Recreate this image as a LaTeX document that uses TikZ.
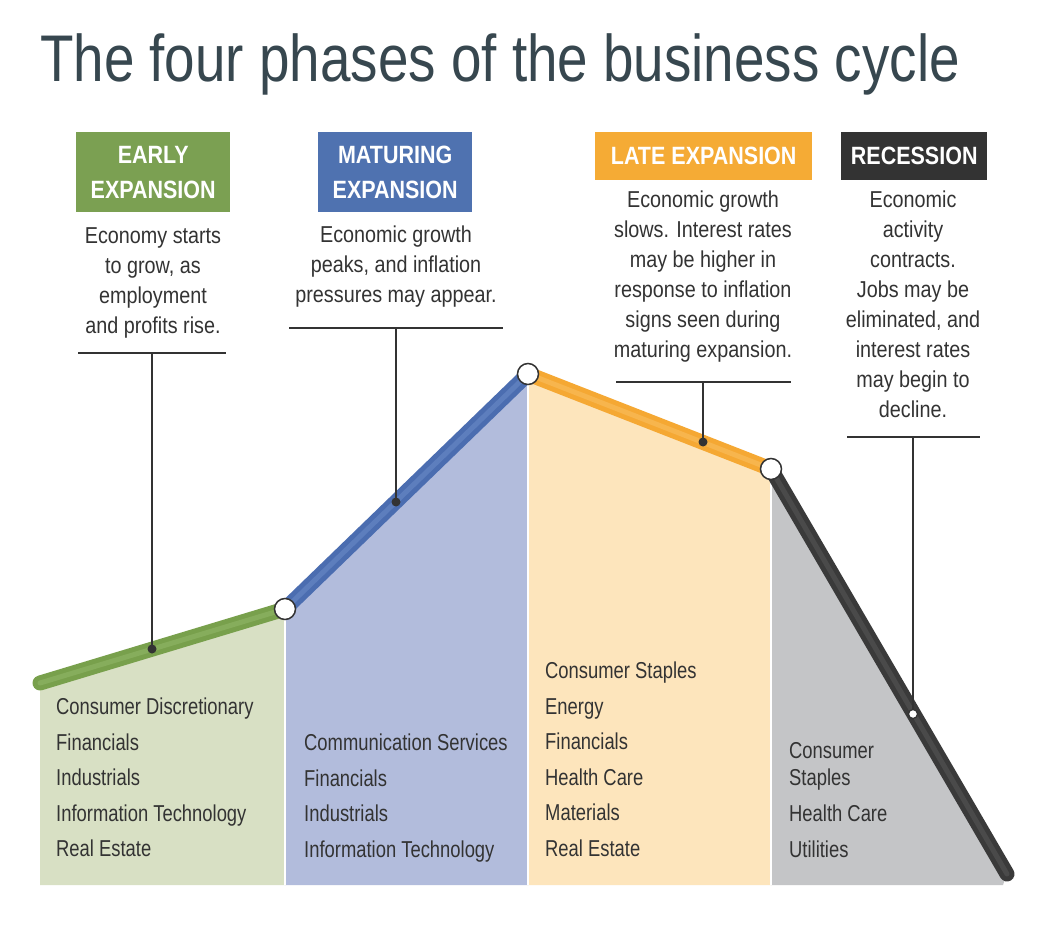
\documentclass[tikz,border=0pt]{standalone}
\usepackage{fontspec}
\setmainfont{Liberation Sans}[FakeStretch=0.8]
\newfontfamily\titlefont{Liberation Sans}[FakeStretch=0.83]
\newfontfamily\headfont{Liberation Sans}[FakeStretch=0.86]
\newfontfamily\descfont{Liberation Sans}[FakeStretch=0.86]
\definecolor{titlecol}{HTML}{37474F}
\definecolor{txt}{HTML}{333333}
\definecolor{cgreen}{HTML}{78A04C}
\definecolor{cgreenhi}{HTML}{93B86A}
\definecolor{cblue}{HTML}{4B6DB0}
\definecolor{cbluehi}{HTML}{6D8CC8}
\definecolor{corange}{HTML}{F5A833}
\definecolor{corangehi}{HTML}{F9C063}
\definecolor{cdark}{HTML}{3A3A3A}
\definecolor{cdarkhi}{HTML}{585858}
\definecolor{fgreen}{HTML}{D8E0C4}
\definecolor{fblue}{HTML}{B2BCDC}
\definecolor{forange}{HTML}{FDE5BC}
\definecolor{fgray}{HTML}{C4C5C7}
\definecolor{boxgreen}{HTML}{7BA052}
\definecolor{boxblue}{HTML}{4F72B0}
\definecolor{boxorange}{HTML}{F5AB35}
\definecolor{boxdark}{HTML}{333333}
\begin{document}
\begin{tikzpicture}[x=1pt,y=-1pt,
  hbox/.style={anchor=north west, inner sep=0pt, text=white, align=center,
    font=\headfont\bfseries\fontsize{25}{35}\selectfont},
  desc/.style={anchor=north, inner sep=0pt, text=txt, align=center,
    font=\descfont\fontsize{23}{30}\selectfont},
  sector/.style={anchor=north west, inner sep=0pt, text=txt, align=left,
    font=\fontsize{23}{35.5}\selectfont},
  tube/.style={line width=15pt, line cap=round},
  tubehi/.style={line width=5pt, line cap=round, opacity=0.55},
  jdot/.style={circle, draw=txt, fill=white, line width=1.5pt, minimum size=21pt, inner sep=0pt},
  cdot/.style={circle, fill=txt, minimum size=9pt, inner sep=0pt},
  odot/.style={circle, draw=txt, fill=white, line width=1.2pt, minimum size=9pt, inner sep=0pt},
  rulebar/.style={draw=txt, line width=2.8pt},
  lead/.style={draw=txt, line width=1.3pt},
  sep/.style={draw=white, line width=1.6pt}
]
\useasboundingbox (0,0) rectangle (1050,933);
\fill[white] (0,0) rectangle (1050,933);

% curve points
\coordinate (p0) at (40,683);
\coordinate (p1) at (285,609);
\coordinate (p2) at (528,374);
\coordinate (p3) at (771,469);
\coordinate (p4) at (1007,874);
\coordinate (b0) at (40,885);
\coordinate (b1) at (285,885);
\coordinate (b2) at (528,885);
\coordinate (b3) at (771,885);
\coordinate (b4) at (1003,885);

% region fills
\fill[fgreen] (40,690) -- (p1) -- (b1) -- (b0) -- cycle;
\fill[fblue] (p1) -- (p2) -- (b2) -- (b1) -- cycle;
\fill[forange] (p2) -- (p3) -- (b3) -- (b2) -- cycle;
\fill[fgray] (p3) -- (p4) -- (b4) -- (b3) -- cycle;
\draw[sep] (p1) -- (b1);
\draw[sep] (p2) -- (b2);
\draw[sep] (p3) -- (b3);

% tubes
\draw[tube, cgreen] (p0) -- (p1);
\draw[tubehi, cgreenhi] (p0) -- (p1);
\draw[tube, cblue] (p1) -- (p2);
\draw[tubehi, cbluehi] (p1) -- (p2);
\draw[tube, corange] (p2) -- (p3);
\draw[tubehi, corangehi] (p2) -- (p3);
\draw[tube, cdark] (p3) -- (p4);
\draw[tubehi, cdarkhi] (p3) -- (p4);

% junction circles
\node[jdot] (j1) at (p1) {};
\node[jdot] (j2) at (p2) {};
\node[jdot] (j3) at (p3) {};

% title
\node[anchor=base west, inner sep=0pt, text=titlecol,
  font=\titlefont\fontsize{66}{66}\selectfont] (title) at (40,82)
  {The four phases of the business cycle};

% header boxes
\node[hbox, fill=boxgreen, minimum width=154pt, minimum height=80pt] (h1) at (76,132) {EARLY\\EXPANSION};
\node[hbox, fill=boxblue, minimum width=154pt, minimum height=80pt] (h2) at (318,132) {MATURING\\EXPANSION};
\node[hbox, fill=boxorange, minimum width=217pt, minimum height=48pt] (h3) at (595,132) {LATE EXPANSION};
\node[hbox, fill=boxdark, minimum width=146pt, minimum height=48pt] (h4) at (841,132) {RECESSION};

% descriptions
\node[desc] (d1) at (153,227) {Economy starts\\to grow, as\\employment\\and profits rise.};
\node[desc] (d2) at (396,226) {Economic growth\\peaks, and inflation\\pressures may appear.};
\node[desc] (d3) at (703,191) {Economic growth\\slows. Interest rates\\may be higher in\\response to inflation\\signs seen during\\maturing expansion.};
\node[desc] (d4) at (913,191) {Economic\\activity\\contracts.\\Jobs may be\\eliminated, and\\interest rates\\may begin to\\decline.};

% rules and leads
\coordinate (r1l) at (78,353); \coordinate (r1r) at (226,353); \coordinate (r1c) at (152,353);
\coordinate (r2l) at (289,328); \coordinate (r2r) at (503,328); \coordinate (r2c) at (396,328);
\coordinate (r3l) at (616,382); \coordinate (r3r) at (791,382); \coordinate (r3c) at (703,382);
\coordinate (r4l) at (847,437); \coordinate (r4r) at (980,437); \coordinate (r4c) at (913,437);
\draw[rulebar] (r1l) -- (r1r);
\draw[rulebar] (r2l) -- (r2r);
\draw[rulebar] (r3l) -- (r3r);
\draw[rulebar] (r4l) -- (r4r);

\node[cdot] (c1) at (152,649) {};
\node[cdot] (c2) at (396,502) {};
\node[cdot] (c3) at (703,442) {};
\node[odot] (c4) at (913,714) {};
\draw[lead] (r1c) -- (c1.center);
\draw[lead] (r2c) -- (c2.center);
\draw[lead] (r3c) -- (c3.center);
\draw[lead] (r4c) -- (c4.north);

% sector lists
\node[sector] (s1) at (56,698) {Consumer Discretionary\\Financials\\Industrials\\Information Technology\\Real Estate};
\node[sector] (s2) at (304,734) {Communication Services\\Financials\\Industrials\\Information Technology};
\node[sector] (s3) at (545,662) {Consumer Staples\\Energy\\Financials\\Health Care\\Materials\\Real Estate};
\node[sector, font=\fontsize{23}{27}\selectfont] (s4a) at (789,742) {Consumer\\Staples};
\node[sector] (s4b) at (789,805) {Health Care\\Utilities};
\end{tikzpicture}
\end{document}
